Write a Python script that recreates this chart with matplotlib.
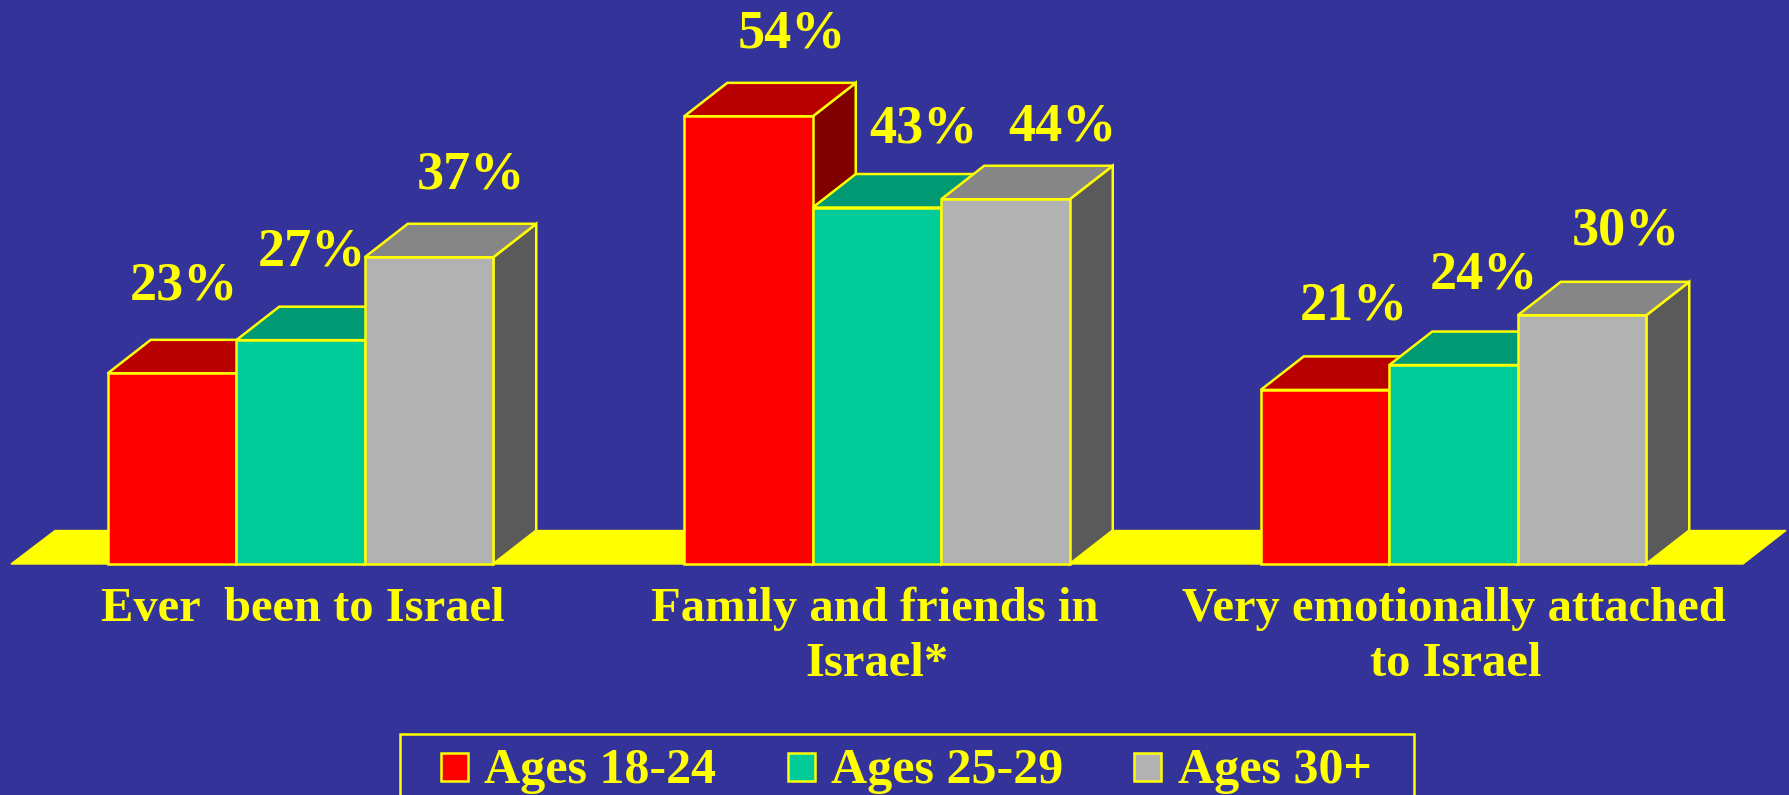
import matplotlib
matplotlib.use('Agg')
import matplotlib.pyplot as plt
from matplotlib.patches import Polygon, Rectangle

categories = [['Ever  been to Israel'], ['Family and friends in', 'Israel*'],
              ['Very emotionally attached', 'to Israel']]
series_names = ['Ages 18-24', 'Ages 25-29', 'Ages 30+']
ages_18_24 = [23, 54, 21]
ages_25_29 = [27, 43, 24]
ages_30_up = [37, 44, 30]
series = [ages_18_24, ages_25_29, ages_30_up]

bg = '#333399'
yellow = '#ffff00'
front = ['#ff0000', '#00cc99', '#b2b2b2']
top = ['#b80000', '#009973', '#868686']
side = ['#800000', '#006b50', '#5a5a5a']

# figure is 1789x795, one group step is 576.5 px, one percent is 8.29 px
W, H = 1789, 795
step = 576.5
ppp = 8.29
bar_w = 128.5 / step
dx = 43 / step
dy = 33.5 / ppp

# label nudges (x in groups, y in percent) per series, per group
lab_dx = [[.020, .075, .050], [.020, .081, .052], [.072, .098, .076]]
lab_dy = [[8.95, 8.25, 8.5], [8.95, 7.9, 9.25], [8.3, 7.1, 8.5]]
cat_dx = [.004, -.004, 0]

fig = plt.figure(figsize=(W / 100, H / 100), dpi=100, facecolor=bg)
ax = fig.add_axes([0, 0, 1, 1])
ax.set_xlim(-300.5 / step, (W - 300.5) / step)
ax.set_ylim(-(H - 564) / ppp, 564 / ppp)
ax.axis('off')

# floor
ax.add_patch(Polygon([(-289.5 / step, 0), (1442.5 / step, 0),
                      (1485.5 / step, dy), (-245.5 / step, dy)],
                     fc=yellow, ec=yellow, lw=1, zorder=1))

z = 2
for g in range(3):
    for s in range(3):
        v = series[s][g]
        x0 = g + (s - 1.5) * bar_w
        x1 = x0 + bar_w
        ax.add_patch(Polygon([(x1, 0), (x1 + dx, dy), (x1 + dx, v + dy), (x1, v)],
                             fc=side[s], ec=yellow, lw=1.8, zorder=z))
        ax.add_patch(Polygon([(x0, v), (x1, v), (x1 + dx, v + dy), (x0 + dx, v + dy)],
                             fc=top[s], ec=yellow, lw=1.8, zorder=z))
        ax.bar(x0, v, width=bar_w, align='edge', color=front[s], edgecolor=yellow,
               linewidth=1.8, zorder=z + 0.5)
        ax.text(x0 + bar_w / 2 + lab_dx[s][g], v + lab_dy[s][g], '%d%%' % v,
                family='Liberation Serif', weight='bold', fontsize=39, color=yellow,
                ha='center', va='baseline', zorder=20)
        z += 1

line_y = [-57, -112]
for g, lines in enumerate(categories):
    for i, line in enumerate(lines):
        ax.text(g + cat_dx[g] + .004 * i, line_y[i] / ppp, line, family='Liberation Serif',
                weight='bold', fontsize=35, color=yellow, ha='center', va='baseline', zorder=20)

# legend, the box runs off the bottom of the picture
px = fig.transFigure
ax.add_patch(Rectangle((399.5 / W, -0.05), 1014 / W, 1 - 733.5 / H + 0.05, transform=px,
                       fc=bg, ec=yellow, lw=1.8, clip_on=False, zorder=20))
key_x = [441, 788, 1134]
text_x = [484, 831, 1178]
for s, name in enumerate(series_names):
    ax.add_patch(Rectangle((key_x[s] / W, 1 - 781 / H), 27 / W, 28 / H, transform=px,
                           fc=front[s], ec=yellow, lw=1.8, zorder=21))
    ax.text(text_x[s] / W, 1 - 783 / H, name, transform=px, family='Liberation Serif',
            weight='bold', fontsize=36, color=yellow, ha='left', va='baseline', zorder=21)

fig.savefig('out.png', dpi=100, facecolor=bg)
